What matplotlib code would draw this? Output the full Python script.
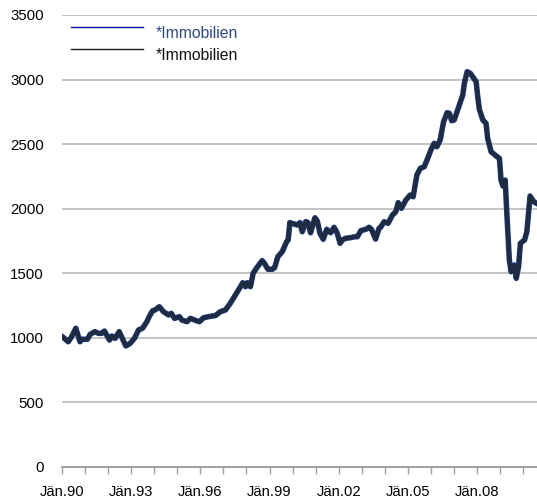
import matplotlib
matplotlib.use('Agg')
import matplotlib.pyplot as plt

plt.rcParams['font.family'] = ['Liberation Sans', 'DejaVu Sans']

# Index values, x in decimal years
years = [1990.05, 1990.27, 1990.40, 1990.60, 1990.78, 1990.86, 1991.10, 1991.22,
         1991.43, 1991.58, 1991.72, 1991.84, 1992.06, 1992.16, 1992.30, 1992.48,
         1992.77, 1992.96, 1993.14, 1993.32, 1993.49, 1993.68, 1993.78, 1993.93,
         1994.04, 1994.22, 1994.40, 1994.62, 1994.74, 1994.88, 1995.09, 1995.20,
         1995.42, 1995.57, 1995.75, 1995.96, 1996.14, 1996.36, 1996.50, 1996.65,
         1996.87, 1997.09, 1997.30, 1997.52, 1997.74, 1997.84, 1997.96, 1998.03,
         1998.17, 1998.29, 1998.46, 1998.68, 1998.78, 1998.93, 1999.12, 1999.22,
         1999.36, 1999.55, 1999.74, 1999.81, 1999.88, 2000.06, 2000.20, 2000.32,
         2000.42, 2000.57, 2000.67, 2000.78, 2000.97, 2001.07, 2001.19, 2001.33,
         2001.48, 2001.65, 2001.80, 2001.94, 2002.06, 2002.16, 2002.30, 2002.52,
         2002.70, 2002.81, 2002.96, 2003.17, 2003.32, 2003.42, 2003.60, 2003.75,
         2003.83, 2003.97, 2004.14, 2004.33, 2004.48, 2004.58, 2004.72, 2004.91,
         2005.10, 2005.23, 2005.39, 2005.54, 2005.71, 2005.86, 2006.00, 2006.14,
         2006.26, 2006.40, 2006.55, 2006.70, 2006.80, 2006.90, 2007.01, 2007.23,
         2007.38, 2007.45, 2007.57, 2007.71, 2007.81, 2007.96, 2008.03, 2008.10,
         2008.25, 2008.39, 2008.46, 2008.61, 2008.83, 2008.97, 2009.04, 2009.12,
         2009.22, 2009.30, 2009.40, 2009.48, 2009.62, 2009.70, 2009.80, 2009.88,
         2010.06, 2010.16, 2010.30, 2010.46, 2010.64]
values = [1004, 970, 1004, 1074, 970, 989, 989, 1027,
          1048, 1035, 1035, 1053, 983, 1014, 996, 1048,
          937, 958, 996, 1061, 1074, 1125, 1164, 1210,
          1216, 1241, 1203, 1177, 1190, 1151, 1164, 1138,
          1125, 1151, 1138, 1125, 1156, 1164, 1169, 1172,
          1203, 1216, 1268, 1332, 1396, 1427, 1396, 1427,
          1396, 1500, 1546, 1598, 1577, 1531, 1531, 1543,
          1628, 1667, 1744, 1758, 1892, 1882, 1874, 1892,
          1822, 1900, 1892, 1814, 1930, 1905, 1809, 1763,
          1840, 1814, 1856, 1809, 1732, 1758, 1771, 1776,
          1783, 1783, 1830, 1840, 1856, 1840, 1765, 1848,
          1860, 1899, 1887, 1951, 1977, 2047, 2003, 2067,
          2106, 2093, 2261, 2313, 2325, 2390, 2455, 2506,
          2480, 2532, 2674, 2743, 2739, 2681, 2687, 2803,
          2880, 2971, 3061, 3048, 3022, 2984, 2867, 2770,
          2687, 2661, 2545, 2441, 2408, 2390, 2222, 2176,
          2222, 1938, 1603, 1512, 1564, 1461, 1551, 1732,
          1758, 1822, 2098, 2054, 2036]

series_names = ['*Immobilien', '*Immobilien']
tick_years = list(range(1990, 2011))
label_years = list(range(1990, 2009, 3))
y_ticks = [0, 500, 1000, 1500, 2000, 2500, 3000, 3500]

fig = plt.figure(figsize=(5.37, 5.0), dpi=100)
ax = fig.add_axes([62 / 537, 1 - 467 / 500, 1 - 62 / 537, (467 - 15) / 500])

# two identical series: blue underneath, dark on top
ax.plot(years, values, color='#1f3f8c', linewidth=4.0, solid_joinstyle='round', zorder=3)
ax.plot(years, values, color='#1f2b40', linewidth=3.0, solid_joinstyle='round', zorder=4)

ax.set_xlim(1990.0, 2010.6)
ax.set_ylim(0, 3500)
ax.set_yticks(y_ticks)
ax.yaxis.grid(True, color='#c4c4c4', linewidth=1.4)
ax.set_axisbelow(True)

ax.set_xticks(tick_years)
ax.set_xticklabels(['J\u00e4n.%02d' % (y % 100) if y in label_years else '' for y in tick_years])
ax.tick_params(axis='x', length=5, width=1, color='#a0a0a0', pad=8, labelsize=10.6)
ax.tick_params(axis='y', length=0, pad=13, labelsize=10.8)

for side in ['left', 'right', 'top']:
    ax.spines[side].set_visible(False)
ax.spines['bottom'].set_color('#a0a0a0')
ax.spines['bottom'].set_linewidth(1.4)

# legend drawn by hand like the original
ax.plot([1990.39, 1993.51], [3407, 3407], color='#1010a0', linewidth=1.0, clip_on=False)
ax.plot([1990.39, 1993.51], [3237, 3237], color='#202020', linewidth=1.0, clip_on=False)
ax.text(1994.08, 3360, series_names[0], color='#2a4a82', fontsize=11.3, va='center')
ax.text(1994.08, 3183, series_names[1], color='#111111', fontsize=11.3, va='center')

fig.savefig('out.png', dpi=100)
